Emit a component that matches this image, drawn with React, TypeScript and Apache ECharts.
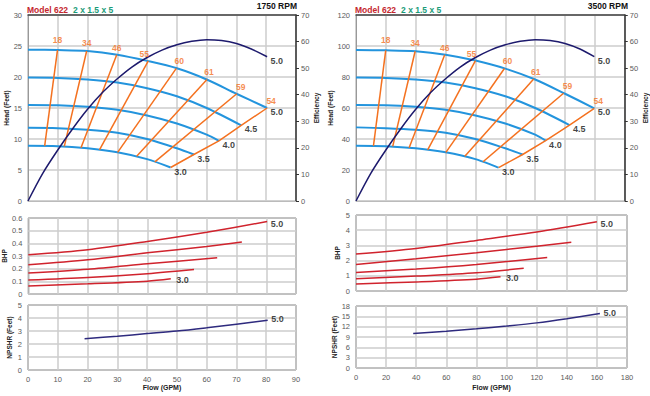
import { useEffect, useRef } from "react";
import * as echarts from "echarts";

type Pt = [number, number];

const FONT = "'Liberation Sans', Arial, sans-serif";

// ---------- 1750 RPM (left) ----------
const rpmL = "1750 RPM";
const flowAxisL = [0, 90, 10];
const headAxisL = [0, 30, 5];
const bhpAxisL = [0, 0.6, 0.1];
const npshrAxisL = [0, 5, 1];

const head50L: Pt[] = [[0, 24.4], [10, 24.35], [20, 24.2], [30, 23.6], [40, 22.6], [50, 21.4], [60, 19.6], [70, 17.3], [80.3, 15.0]];
const head45L: Pt[] = [[0, 19.9], [10, 19.85], [20, 19.6], [30, 19.1], [40, 18.2], [50, 16.9], [60, 15.0], [71.6, 12.2]];
const head40L: Pt[] = [[0, 15.5], [10, 15.45], [20, 15.2], [30, 14.7], [40, 13.8], [50, 12.5], [60, 10.7], [64.1, 9.7]];
const head35L: Pt[] = [[0, 11.8], [10, 11.75], [20, 11.5], [30, 11.0], [40, 10.0], [50, 8.5], [55.7, 7.5]];
const head30L: Pt[] = [[0, 8.9], [10, 8.85], [20, 8.5], [30, 7.85], [40, 6.75], [47.9, 5.4]];

const iso18L: Pt[] = [[5.6, 8.88], [9.9, 24.35]];
const iso34L: Pt[] = [[12.2, 8.8], [19.7, 24.2]];
const iso46L: Pt[] = [[17.8, 8.6], [29.8, 23.6]];
const iso55L: Pt[] = [[24.0, 8.25], [40.4, 22.6]];
const iso60L: Pt[] = [[30.1, 7.85], [49.8, 21.4]];
const iso61L: Pt[] = [[36.5, 7.2], [60.1, 19.6]];
const iso59L: Pt[] = [[42.6, 6.3], [70.1, 17.3]];

const effCurveL: Pt[] = [[0, 0], [5, 10.5], [10, 19.2], [15, 27.2], [20, 34.5], [25, 40.8], [30, 46.0], [35, 50.5], [40, 54.0], [45, 56.8], [50, 58.8], [55, 60.1], [60, 60.7], [65, 60.4], [70, 59.3], [75, 57.2], [80.3, 54.3]];

const bhp50L: Pt[] = [[0, 0.31], [20, 0.35], [40, 0.415], [60, 0.488], [80.3, 0.572]];
const bhp45L: Pt[] = [[0, 0.23], [20, 0.27], [40, 0.325], [60, 0.375], [71.8, 0.41]];
const bhp40L: Pt[] = [[0, 0.165], [20, 0.195], [40, 0.238], [63.5, 0.287]];
const bhp35L: Pt[] = [[0, 0.11], [20, 0.13], [40, 0.16], [55.7, 0.193]];
const bhp30L: Pt[] = [[0, 0.064], [20, 0.08], [40, 0.101], [47.9, 0.12]];

const npshrL: Pt[] = [[19, 2.4], [30, 2.6], [40, 2.8], [50, 3.0], [60, 3.25], [70, 3.52], [80.5, 3.82]];

// ---------- 3500 RPM (right) ----------
const rpmR = "3500 RPM";
const flowAxisR = [0, 180, 20];
const headAxisR = [0, 120, 20];
const bhpAxisR = [0, 5, 1];
const npshrAxisR = [0, 18, 3];

const head50R: Pt[] = [[0, 97.4], [20, 97.2], [40, 96.6], [60, 94.4], [80, 90.6], [100, 85.4], [120, 78.4], [140, 69.2], [159.6, 59.8]];
const head45R: Pt[] = [[0, 79.6], [20, 79.4], [40, 78.4], [60, 76.4], [80, 72.8], [100, 67.6], [120, 60.0], [143, 49.0]];
const head40R: Pt[] = [[0, 61.9], [20, 61.8], [40, 60.8], [60, 58.8], [80, 55.2], [100, 50.0], [120, 42.8], [127, 39.0]];
const head35R: Pt[] = [[0, 47.5], [20, 47.0], [40, 46.0], [60, 44.0], [80, 40.0], [100, 34.0], [111.6, 30.0]];
const head30R: Pt[] = [[0, 35.7], [20, 35.4], [40, 34.0], [60, 31.4], [80, 27.0], [95.5, 21.5]];

const iso18R: Pt[] = [[11.7, 35.6], [19.9, 97.2]];
const iso34R: Pt[] = [[24.6, 35.2], [39.6, 96.6]];
const iso46R: Pt[] = [[35.6, 34.4], [59.4, 94.4]];
const iso55R: Pt[] = [[48, 33.0], [80, 90.6]];
const iso60R: Pt[] = [[60.2, 31.4], [99.4, 85.5]];
const iso61R: Pt[] = [[72.9, 28.8], [119, 78.7]];
const iso59R: Pt[] = [[85.1, 25.3], [139, 69.5]];

const effCurveR: Pt[] = [[0, 0], [10, 10.5], [20, 19.2], [30, 27.2], [40, 34.5], [50, 40.8], [60, 46.0], [70, 50.5], [80, 54.0], [90, 56.8], [100, 58.8], [110, 60.1], [120, 60.7], [130, 60.4], [140, 59.3], [150, 57.2], [159.6, 54.3]];

const bhp50R: Pt[] = [[0, 2.43], [40, 2.8], [80, 3.33], [120, 3.88], [160, 4.55]];
const bhp45R: Pt[] = [[0, 1.75], [40, 2.12], [80, 2.52], [120, 2.95], [143, 3.2]];
const bhp40R: Pt[] = [[0, 1.22], [40, 1.45], [80, 1.75], [127, 2.2]];
const bhp35R: Pt[] = [[0, 0.8], [40, 0.98], [80, 1.2], [111.4, 1.5]];
const bhp30R: Pt[] = [[0, 0.46], [40, 0.6], [80, 0.78], [96, 0.93]];

const npshrR: Pt[] = [[38, 10.0], [60, 10.7], [80, 11.4], [100, 12.2], [120, 13.1], [140, 14.3], [162, 15.8]];

// ---------- shared labels ----------
const modelText = "Model 622";
const sizeText = "2 x 1.5 x 5";
const diameters = ["5.0", "4.5", "4.0", "3.5", "3.0"];
const effLevels = ["18", "34", "46", "55", "60", "61", "59", "54"];

const sides = [
  {
    rpm: rpmL, flow: flowAxisL, head: headAxisL, bhp: bhpAxisL, npshr: npshrAxisL,
    headCurves: [head50L, head45L, head40L, head35L, head30L],
    isoLines: [iso18L, iso34L, iso46L, iso55L, iso60L, iso61L, iso59L],
    eff: effCurveL,
    bhpCurves: [bhp50L, bhp45L, bhp40L, bhp35L, bhp30L],
    npshrCurve: npshrL,
  },
  {
    rpm: rpmR, flow: flowAxisR, head: headAxisR, bhp: bhpAxisR, npshr: npshrAxisR,
    headCurves: [head50R, head45R, head40R, head35R, head30R],
    isoLines: [iso18R, iso34R, iso46R, iso55R, iso60R, iso61R, iso59R],
    eff: effCurveR,
    bhpCurves: [bhp50R, bhp45R, bhp40R, bhp35R, bhp30R],
    npshrCurve: npshrR,
  },
];

// ---------- layout / styles ----------
const layouts = [
  { left: 28, width: 268, tops: [15, 218, 305], heights: [186, 76, 65], flowGap: 14 },
  { left: 356, width: 271, tops: [15, 215, 306], heights: [186, 76, 62], flowGap: 16 },
];
const isoOffsets: Pt[] = [[0, -3], [0, -1], [0, 0], [-4, 0], [3, 0], [2, 0], [4, 0], [4, 0]];

const BLUE = "#2394dd";
const ORANGE = "#f4711f";
const NAVY = "#1d1a6d";
const RED = "#d0232d";
const SPLIT = { color: "#cdcdcd", width: 1.5 };
const TICK_LABEL = { fontSize: 7.5, color: "#5a5a5a", fontFamily: FONT };
const NAME_STYLE = { fontSize: 6.5, fontWeight: "bold", color: "#222", fontFamily: FONT };

const last = (a: Pt[]) => a[a.length - 1];

function buildOption() {
  const grid: any[] = [];
  const xAxis: any[] = [];
  const yAxis: any[] = [];
  const series: any[] = [];
  const title: any[] = [];

  sides.forEach((s, si) => {
    const lay = layouts[si];
    const g0 = grid.length;
    lay.tops.forEach((t, k) => {
      grid.push({
        left: lay.left, top: t, width: lay.width, height: lay.heights[k],
        show: true, borderColor: k === 0 ? "#bbbbbb" : "#444", borderWidth: 1,
        backgroundColor: "transparent",
      });
    });

    const flowBase = (gi: number, extra: any = {}) => ({
      type: "value", gridIndex: gi, min: s.flow[0], max: s.flow[1], interval: s.flow[2],
      axisLine: { show: false }, axisTick: { show: false },
      axisLabel: { show: false }, splitLine: { show: true, lineStyle: SPLIT },
      ...extra,
    });
    const xi0 = xAxis.length;
    xAxis.push(flowBase(g0, { axisLine: { show: true, onZero: false, lineStyle: { color: "#bbb", width: 1 } } }));
    xAxis.push(flowBase(g0, { position: "top", splitLine: { show: false }, axisLine: { show: true, onZero: false, lineStyle: { color: "#444", width: 1.5 } } }));
    xAxis.push(flowBase(g0 + 1));
    xAxis.push(flowBase(g0 + 2, {
      axisLabel: { show: true, margin: 5, ...TICK_LABEL },
      name: "Flow (GPM)", nameLocation: "middle", nameGap: lay.flowGap,
      nameTextStyle: { ...NAME_STYLE, fontSize: 7 },
    }));

    const yi0 = yAxis.length;
    const valAxis = (gi: number, r: number[], name: string, extra: any = {}) => ({
      type: "value", gridIndex: gi, min: r[0], max: r[1], interval: r[2],
      axisLine: { show: false }, axisTick: { show: false },
      axisLabel: { margin: 6, ...TICK_LABEL },
      splitLine: { show: true, lineStyle: SPLIT },
      name, nameLocation: "middle", nameRotate: 90, nameGap: 15, nameTextStyle: NAME_STYLE,
      ...extra,
    });
    yAxis.push(valAxis(g0, s.head, "Head (Feet)", { axisLine: { show: true, onZero: false, lineStyle: { color: "#999", width: 1 } } }));
    yAxis.push(valAxis(g0, [0, 70, 10], "Efficiency", {
      position: "right", splitLine: { show: false },
      axisLine: { show: true, onZero: false, lineStyle: { color: "#333", width: 1.5 } },
      axisTick: { show: true, length: 3, lineStyle: { color: "#333" } },
      axisLabel: { margin: 5, ...TICK_LABEL },
    }));
    yAxis.push(valAxis(g0 + 1, s.bhp, "BHP"));
    yAxis.push(valAxis(g0 + 2, s.npshr, "NPSHR (Feet)"));

    const line = (data: Pt[], xi: number, yi: number, color: string, width: number, smooth: any, z = 2) => ({
      type: "line", xAxisIndex: xi, yAxisIndex: yi, data, symbol: "none", smooth,
      silent: true, z,
      lineStyle: { color, width }, emphasis: { disabled: true },
    });

    s.headCurves.forEach((c) => series.push(line(c, xi0, yi0, BLUE, 2, 0.3, 2)));
    s.isoLines.forEach((c) => series.push(line(c, xi0, yi0, ORANGE, 1.5, false, 3)));
    const ends = s.headCurves.map(last).slice().reverse();
    series.push(line(ends, xi0, yi0, ORANGE, 1.5, false, 3));
    series.push(line(s.eff, xi0 + 0, yi0 + 1, NAVY, 1.5, 0.3, 4));
    s.bhpCurves.forEach((c) => series.push(line(c, xi0 + 2, yi0 + 2, RED, 1.5, 0.3, 2)));
    series.push(line(s.npshrCurve, xi0 + 3, yi0 + 3, "#2e2a7e", 1.5, 0.3, 2));

    const labelSeries = (xi: number, yi: number, items: any[]) => ({
      type: "scatter", xAxisIndex: xi, yAxisIndex: yi, symbolSize: 1, silent: true, z: 10,
      itemStyle: { color: "rgba(0,0,0,0)" }, emphasis: { disabled: true },
      data: items.map((it) => ({
        value: it.pt,
        label: {
          show: true, formatter: it.text, position: it.position, distance: it.distance ?? 3,
          offset: it.offset, color: it.color, fontSize: it.fontSize ?? 9, fontWeight: "bold", fontFamily: FONT,
        },
      })),
    });
    const black = "#111";
    series.push(labelSeries(xi0, yi0, s.headCurves.map((c, i) => ({ pt: last(c), text: diameters[i], position: "right", offset: [0, 4], color: black }))));
    const isoTops = [...s.isoLines.map(last), last(s.headCurves[0])];
    series.push(labelSeries(xi0, yi0, isoTops.map((p, i) => ({ pt: p, text: effLevels[i], position: "top", distance: 2, offset: isoOffsets[i], color: ORANGE, fontSize: 8.5 }))));
    series.push(labelSeries(xi0, yi0 + 1, [{ pt: last(s.eff), text: diameters[0], position: "right", offset: [0, 4], color: black }]));
    series.push(labelSeries(xi0 + 2, yi0 + 2, [
      { pt: last(s.bhpCurves[0]), text: diameters[0], position: "right", offset: [0, 2], color: black },
      { pt: last(s.bhpCurves[4]), text: diameters[4], position: "right", distance: 5, offset: [0, 1], color: black },
    ]));
    series.push(labelSeries(xi0 + 3, yi0 + 3, [{ pt: last(s.npshrCurve), text: diameters[0], position: "right", offset: [0, -1], color: black }]));

    title.push({
      left: lay.left - 1, top: 1, padding: 0,
      text: `{a|${modelText}} {b|${sizeText}}`,
      textStyle: {
        rich: {
          a: { color: "#c4262e", fontWeight: "bold", fontSize: 8.5, fontFamily: FONT },
          b: { color: "#1a9b78", fontWeight: "bold", fontSize: 8.5, fontFamily: FONT },
        },
      },
    });
    title.push({
      right: 650 - (lay.left + lay.width) - 1, top: 1, padding: 0, text: s.rpm,
      textStyle: { color: "#111", fontWeight: "bold", fontSize: 8.5, fontFamily: FONT },
    });
  });

  return {
    animation: false,
    backgroundColor: "#ffffff",
    textStyle: { fontFamily: FONT },
    title, grid, xAxis, yAxis, series,
  };
}

export default function App() {
  const ref = useRef<HTMLDivElement>(null);
  useEffect(() => {
    if (!ref.current) return;
    const chart = echarts.init(ref.current, null, { renderer: "svg" });
    chart.setOption(buildOption() as any);
    return () => chart.dispose();
  }, []);
  return (
    <div
      ref={ref}
      style={{ position: "absolute", left: 0, top: 0, width: 650, height: 396, background: "#fff" }}
    />
  );
}
